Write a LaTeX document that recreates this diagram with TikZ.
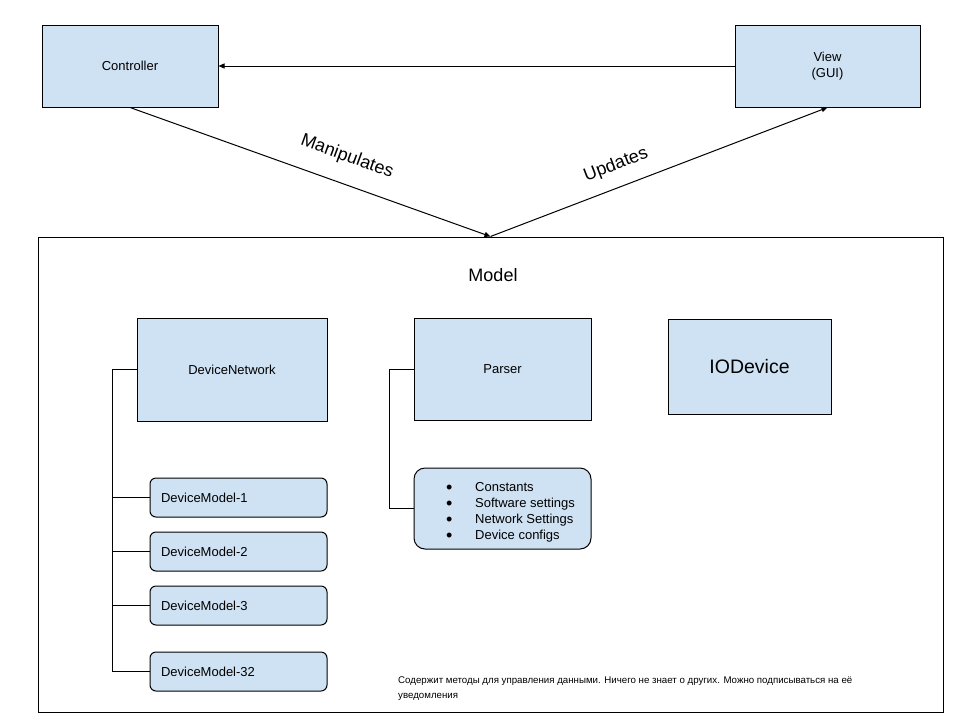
\documentclass[tikz,border=0pt]{standalone}
\usepackage{fontspec}
\setmainfont{Liberation Sans}
\usetikzlibrary{arrows.meta}
\definecolor{boxblue}{HTML}{CFE2F3}
\newcommand{\bigbul}{\makebox[30pt][l]{\kern1pt\raisebox{-2pt}{\fontsize{18}{13}\selectfont •}}}
\tikzset{
  box/.style={draw=black, line width=1pt, fill=boxblue, inner sep=0pt, align=center, font=\fontsize{13}{16}\selectfont},
  dmbox/.style={box, rounded corners=6pt, minimum height=39pt, text width=155pt, inner xsep=11pt, align=left},
  conn/.style={line width=1pt},
  arr/.style={line width=1pt, -{Triangle[length=6pt,width=5pt]}},
  lbl/.style={font=\fontsize{18}{20}\selectfont, inner sep=0pt}
}
\begin{document}
\begin{tikzpicture}[x=1pt,y=-1pt]
\useasboundingbox (0,0) rectangle (960,720);
\node[box, minimum width=176pt, minimum height=82pt] (ctrl) at (130,66) {Controller};
\node[box, minimum width=185pt, minimum height=82pt] (view) at (827.5,66) {View\\(GUI)};
\node[draw=black, line width=1pt, minimum width=905pt, minimum height=475pt, inner sep=0pt] (model) at (490.5,474.5) {};
\node[lbl] (mlabel) at (493,275) {Model};
\node[box, minimum width=190pt, minimum height=103pt] (dn) at (232,369.5) {DeviceNetwork};
\node[box, minimum width=177pt, minimum height=102pt] (parser) at (502.5,369) {Parser};
\node[box, minimum width=163pt, minimum height=95pt, font=\fontsize{19.5}{22}\selectfont] (io) at (749.5,366.5) {IODevice};
\node[box, rounded corners=11pt, minimum width=177pt, minimum height=81pt] (bul) at (502.5,508.5) {};
\node[anchor=west, align=left, inner sep=0pt, font=\fontsize{13}{16}\selectfont] (bultext) at (445,512) {%
\bigbul Constants\\
\bigbul Software settings\\
\bigbul Network Settings\\
\bigbul Device configs};
\node[dmbox] (dm1) at (238.5,497.5) {DeviceModel-1};
\node[dmbox] (dm2) at (238.5,551.5) {DeviceModel-2};
\node[dmbox] (dm3) at (238.5,605.5) {DeviceModel-3};
\node[dmbox] (dm32) at (238.5,671.5) {DeviceModel-32};
\node[anchor=north west, align=left, inner sep=0pt, font=\fontsize{9.7}{15}\selectfont] (note) at (398,677) {Содержит методы для управления данными. Ничего не знает о других. Можно подписываться на её\\уведомления};
% tree connectors
\coordinate (trk) at (112,369.5);
\draw[conn] (dn.west) -- (trk) |- (dm32.west);
\draw[conn] (trk) |- (dm1.west);
\draw[conn] (trk) |- (dm2.west);
\draw[conn] (trk) |- (dm3.west);
\coordinate (ptrk) at (389,369);
\draw[conn] (parser.west) -- (ptrk) |- (bul.west);
% arrows
\draw[arr] (view.west) -- (ctrl.east);
\draw[arr] (ctrl.south) -- (model.north);
\draw[arr] (model.north) -- (view.south);
\node[lbl, rotate=-20] (manip) at (347,157) {Manipulates};
\node[lbl, rotate=21] (upd) at (616,165) {Updates};
\end{tikzpicture}
\end{document}
